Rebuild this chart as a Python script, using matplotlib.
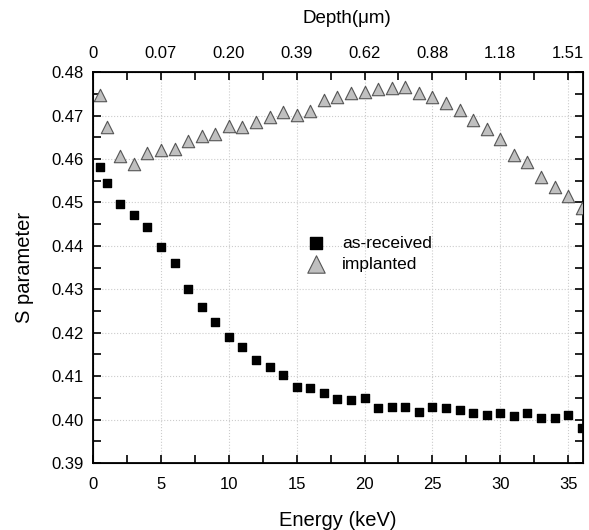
import matplotlib.pyplot as plt
from matplotlib.ticker import MultipleLocator

plt.rcParams['font.family'] = ['Liberation Sans', 'DejaVu Sans']

energy = [0.5, 1, 2, 3, 4, 5, 6, 7, 8, 9, 10, 11, 12, 13, 14, 15, 16, 17, 18,
          19, 20, 21, 22, 23, 24, 25, 26, 27, 28, 29, 30, 31, 32, 33, 34, 35, 36]
s_received = [0.4582, 0.4545, 0.4496, 0.4470, 0.4443, 0.4398, 0.4360, 0.4300,
              0.4260, 0.4224, 0.4189, 0.4168, 0.4136, 0.4120, 0.4103, 0.4076,
              0.4072, 0.4062, 0.4048, 0.4044, 0.4050, 0.4027, 0.4028, 0.4030,
              0.4018, 0.4030, 0.4026, 0.4023, 0.4014, 0.4011, 0.4016, 0.4008,
              0.4014, 0.4003, 0.4004, 0.4010, 0.3980]
s_implanted = [0.4747, 0.4673, 0.4607, 0.4588, 0.4614, 0.4620, 0.4624, 0.4641,
               0.4653, 0.4657, 0.4675, 0.4674, 0.4684, 0.4696, 0.4707, 0.4702,
               0.4711, 0.4735, 0.4742, 0.4751, 0.4753, 0.4762, 0.4763, 0.4765,
               0.4751, 0.4742, 0.4729, 0.4712, 0.4690, 0.4670, 0.4647, 0.4609,
               0.4592, 0.4558, 0.4535, 0.4515, 0.4488]
depth_pos = [0, 5, 10, 15, 20, 25, 30, 35]
depth_labels = ['0', '0.07', '0.20', '0.39', '0.62', '0.88', '1.18', '1.51']

fig = plt.figure(figsize=(5.89, 5.30), dpi=100)
ax = fig.add_axes([0.158, 0.1264, 0.832, 0.7376])

ax.scatter(energy, s_received, marker='s', s=36, c='black', label='as-received', zorder=3)
ax.scatter(energy, s_implanted, marker='^', s=80, c='#c0c0c0', edgecolors='#555555',
           linewidths=0.8, label='implanted', zorder=3)

ax.set_xlim(0, 36.1)
ax.set_ylim(0.39, 0.48)
ax.xaxis.set_major_locator(MultipleLocator(5))
ax.xaxis.set_minor_locator(MultipleLocator(2.5))
ax.yaxis.set_major_locator(MultipleLocator(0.01))
ax.yaxis.set_minor_locator(MultipleLocator(0.005))
ax.yaxis.set_major_formatter(plt.FormatStrFormatter('%.2f'))
ax.grid(True, which='major', color='#cccccc', linestyle=':', linewidth=0.8)
ax.tick_params(which='both', direction='in', top=False, right=True, labelsize=12)
ax.tick_params(which='both', length=6, width=1.2)
ax.tick_params(axis='x', which='major', pad=10)
ax.tick_params(axis='y', which='major', pad=7)
for sp in ax.spines.values():
    sp.set_linewidth(1.3)

ax.set_xlabel('Energy (keV)', fontsize=14.5, labelpad=14)
ax.set_ylabel('S parameter', fontsize=14.5, labelpad=12)

top = ax.twiny()
top.set_xlim(ax.get_xlim())
top.set_xticks(depth_pos)
top.set_xticklabels(depth_labels)
top.xaxis.set_minor_locator(MultipleLocator(2.5))
top.tick_params(which='both', direction='in', length=6, width=1.2, labelsize=12, pad=8)
top.set_xlabel('Depth(μm)', fontsize=13.5, labelpad=16)
top.xaxis.set_label_coords(0.517, 1.125)

ax.legend(loc='center', bbox_to_anchor=(0.555, 0.535), frameon=False, fontsize=12.5,
          handletextpad=0.5, labelspacing=0.35, markerscale=1.4)

fig.savefig('out.png', dpi=100)
